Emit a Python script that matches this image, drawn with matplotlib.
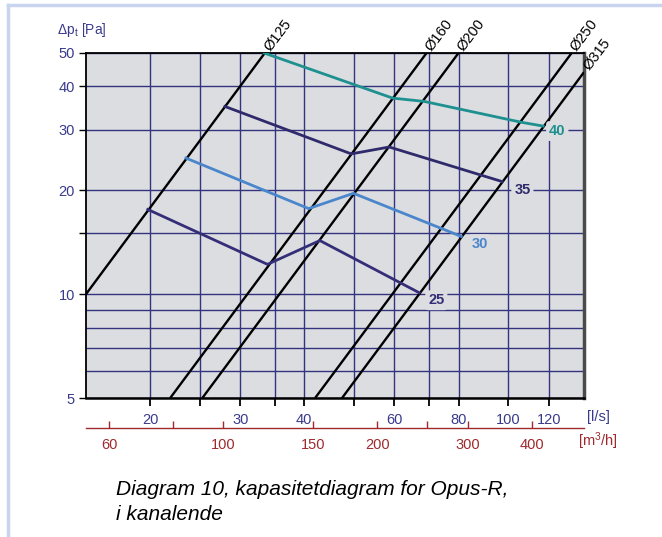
import matplotlib
matplotlib.use("Agg")
import matplotlib.pyplot as plt
from matplotlib.ticker import FixedLocator, NullLocator, FixedFormatter, NullFormatter
from matplotlib.lines import Line2D

plt.rcParams['font.family'] = ['Liberation Sans', 'DejaVu Sans']
plt.rcParams['mathtext.fontset'] = 'custom'
plt.rcParams['mathtext.rm'] = 'Liberation Sans'
plt.rcParams['mathtext.it'] = 'Liberation Sans:italic'

# ---- data ----
duct_names = ["Ø125", "Ø160", "Ø200", "Ø250", "Ø315"]
duct_q = [[15, 33.5], [21.9, 69.3], [25.3, 80.0], [42.0, 133.0], [47.4, 140.6]]
duct_dp = [[10, 50], [5, 50], [5, 50], [5, 50], [5, 44]]

curve_names = ["40", "35", "30", "25"]
curve_q = [[33.4, 59.5, 68.5, 106.0, 117.0],
           [28.0, 49.4, 58.6, 97.3],
           [23.5, 40.8, 49.9, 81.0],
           [19.8, 33.9, 42.9, 67.0]]
curve_dp = [[50, 37.0, 36.2, 31.5, 30.7],
            [35.0, 25.5, 26.7, 21.2],
            [24.8, 17.7, 19.6, 14.7],
            [17.6, 12.2, 14.3, 10.1]]
label_q = [124.7, 106.6, 88.0, 72.4]
label_dp = [29.7, 20.0, 13.96, 9.6]

x_grid = [20, 25, 30, 35, 40, 50, 60, 70, 80, 100, 120]
x_labels = ["20", "", "30", "", "40", "", "60", "", "80", "100", "120"]
y_major = [5, 10, 15, 20, 30, 40, 50]
y_labels = ["5", "10", "", "20", "30", "40", "50"]
y_minor = [6, 7, 8, 9]
m3h_ticks = [60, 80, 100, 150, 200, 250, 300, 400]
m3h_labels = ["60", "", "100", "150", "200", "", "300", "400"]

# ---- styles ----
navy = "#3a3a8c"
gridc = "#33337e"
red = "#9e2a2e"
bg = "#dcdde0"
curve_colors = ["#1e9090", "#2f2a6b", "#4a86cc", "#342e78"]
fs = 10.5

fig = plt.figure(figsize=(6.62, 5.37), dpi=100)
ax = fig.add_axes([86/662, 1-398/537, (584-86)/662, (398-53)/537])
ax.set_facecolor(bg)
ax.set_xscale('log')
ax.set_yscale('log')
ax.set_xlim(15, 140.6)
ax.set_ylim(5, 50)

ax.xaxis.set_major_locator(FixedLocator(x_grid))
ax.xaxis.set_major_formatter(FixedFormatter(x_labels))
ax.xaxis.set_minor_locator(NullLocator())
ax.yaxis.set_major_locator(FixedLocator(y_major))
ax.yaxis.set_major_formatter(FixedFormatter(y_labels))
ax.yaxis.set_minor_locator(FixedLocator(y_minor))
ax.yaxis.set_minor_formatter(NullFormatter())
ax.tick_params(axis='x', which='major', direction='out', length=6, width=1.3,
               color='black', labelcolor=navy, labelsize=fs, pad=5)
ax.tick_params(axis='y', which='major', direction='out', length=5, width=1.0,
               color='black', labelcolor=navy, labelsize=fs, pad=3)
ax.tick_params(axis='y', which='minor', length=0)
ax.grid(True, which='both', color=gridc, linewidth=1.0)
ax.set_axisbelow(True)

for s in ['left', 'top']:
    ax.spines[s].set_linewidth(1.3)
    ax.spines[s].set_color('black')
ax.spines['bottom'].set_linewidth(1.8)
ax.spines['bottom'].set_color('black')
ax.spines['right'].set_linewidth(2.5)
ax.spines['right'].set_color('#4a4a4a')

# duct lines
for name, q, dp in zip(duct_names, duct_q, duct_dp):
    ax.plot(q, dp, color='black', lw=1.7, solid_capstyle='butt', zorder=3)
    ax.annotate(name, xy=(q[1], dp[1]), xytext=(1.5, 2.5), textcoords='offset points',
                rotation=53, rotation_mode='anchor', ha='left', va='center',
                fontsize=fs, color='black', annotation_clip=False)

# sound level curves
for name, q, dp, c, lq, ld in zip(curve_names, curve_q, curve_dp, curve_colors, label_q, label_dp):
    ax.plot(q, dp, color=c, lw=2.0, zorder=4, solid_joinstyle='round')
    ax.text(lq, ld, name, color=c, fontsize=fs, fontweight='bold', ha='center', va='center',
            zorder=5, bbox=dict(boxstyle='round,pad=0.2', fc=bg, ec='none'))

# l/s unit
ax.text(1.006, -0.055, "[l/s]", transform=ax.transAxes, color=navy, fontsize=fs,
        ha='left', va='center')

# secondary m3/h axis
sec = ax.secondary_xaxis(-30/345, functions=(lambda x: x*3.6, lambda x: x/3.6))
sec.xaxis.set_major_locator(FixedLocator(m3h_ticks))
sec.xaxis.set_major_formatter(FixedFormatter(m3h_labels))
sec.xaxis.set_minor_locator(NullLocator())
sec.tick_params(axis='x', which='major', direction='in', length=5, width=1.0,
                color=red, labelcolor=red, labelsize=fs, pad=7)
sec.spines['bottom'].set_color(red)
sec.spines['bottom'].set_linewidth(1.0)
ax.text(0.988, -0.125, "[m$^3$/h]", transform=ax.transAxes, color=red, fontsize=fs,
        ha='left', va='center')

# y unit label
fig.text(57/662, 1-30/537, r"$\Delta$p$_\mathrm{t}$ [Pa]", color=navy, fontsize=10,
         ha='left', va='center')

# caption
fig.text(116/662, 1-502/537, "Diagram 10, kapasitetdiagram for Opus-R,\ni kanalende",
         fontsize=15, style='italic', color='black', ha='left', va='center', linespacing=1.35)

# frame
fig.add_artist(Line2D([8/662, 1], [1-5/537, 1-5/537], color='#c9d4ee', lw=2.5))
fig.add_artist(Line2D([8/662, 8/662], [1-5/537, 0], color='#c9d4ee', lw=2.5))

fig.savefig("out.png", dpi=100)
